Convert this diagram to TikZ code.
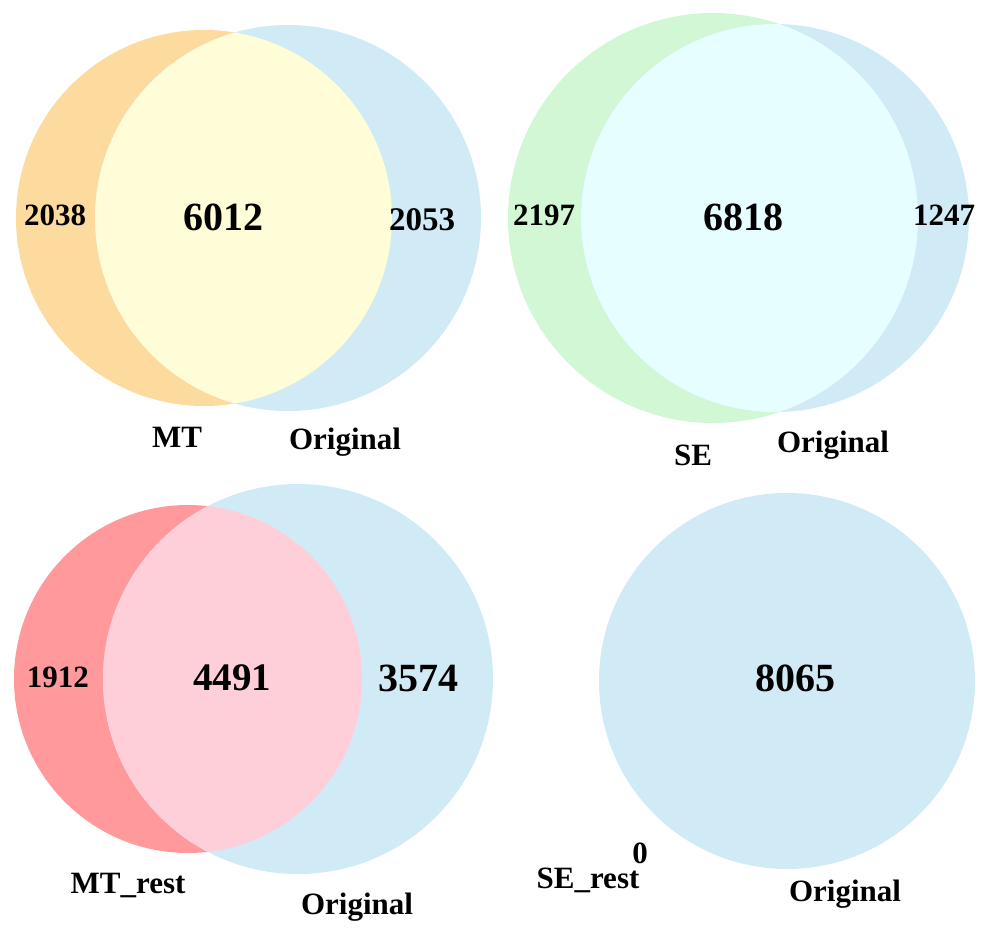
\documentclass[tikz,border=0pt]{standalone}
\usepackage{fontspec}
\setmainfont{Liberation Serif}
\definecolor{corange}{RGB}{253,218,158}
\definecolor{cyellow}{RGB}{255,253,216}
\definecolor{cblue}{RGB}{208,234,246}
\definecolor{cgreen}{RGB}{210,247,212}
\definecolor{ccyan}{RGB}{230,254,255}
\definecolor{cred}{RGB}{255,153,155}
\definecolor{cpink}{RGB}{255,207,217}
\tikzset{
  num/.style={font=\bfseries\fontsize{31}{31}\selectfont, inner sep=0pt},
  bignum/.style={font=\bfseries\fontsize{40}{40}\selectfont, inner sep=0pt},
  lab/.style={font=\bfseries\fontsize{31}{31}\selectfont, inner sep=0pt},
}
\begin{document}
\begin{tikzpicture}[x=1pt,y=-1pt]
\useasboundingbox (0,0) rectangle (996,934);
% top-left
\fill[corange] (204,218) circle (188);
\fill[cblue] (288,218) circle (193);
\begin{scope}
\clip (204,218) circle (188);
\fill[cyellow] (288,218) circle (193);
\end{scope}
\node[num] (a1) at (55,215) {2038};
\node[bignum] (a2) at (223,217) {6012};
\node[num,font=\bfseries\fontsize{33}{33}\selectfont] (a3) at (422,220) {2053};
\node[lab] (a4) at (177,437) {MT};
\node[lab] (a5) at (345,442) {Original};
% top-right
\fill[cgreen] (713,218) circle (205);
\fill[cblue] (775,218) circle (194);
\begin{scope}
\clip (713,218) circle (205);
\fill[ccyan] (775,218) circle (194);
\end{scope}
\node[num] (b1) at (544,215) {2197};
\node[bignum] (b2) at (743,217) {6818};
\node[num] (b3) at (944,215) {1247};
\node[lab] (b4) at (693,455) {SE};
\node[lab] (b5) at (833,445) {Original};
% bottom-left
\fill[cred] (188,679) circle (174);
\fill[cblue] (298,679) circle (195);
\begin{scope}
\clip (188,679) circle (174);
\fill[cpink] (298,679) circle (195);
\end{scope}
\node[num] (c1) at (58,677) {1912};
\node[bignum,font=\bfseries\fontsize{39}{39}\selectfont] (c2) at (232,678) {4491};
\node[bignum] (c3) at (418,678) {3574};
\node[lab] (c4) at (128,885) {MT\_rest};
\node[lab] (c5) at (357,907) {Original};
% bottom-right
\fill[cblue] (787,681) circle (188);
\node[bignum] (d1) at (795,678) {8065};
\node[lab] (d2) at (588,880) {SE\_rest};
\node[num] (d3) at (640,853) {0};
\node[lab] (d4) at (845,894) {Original};
\end{tikzpicture}
\end{document}
